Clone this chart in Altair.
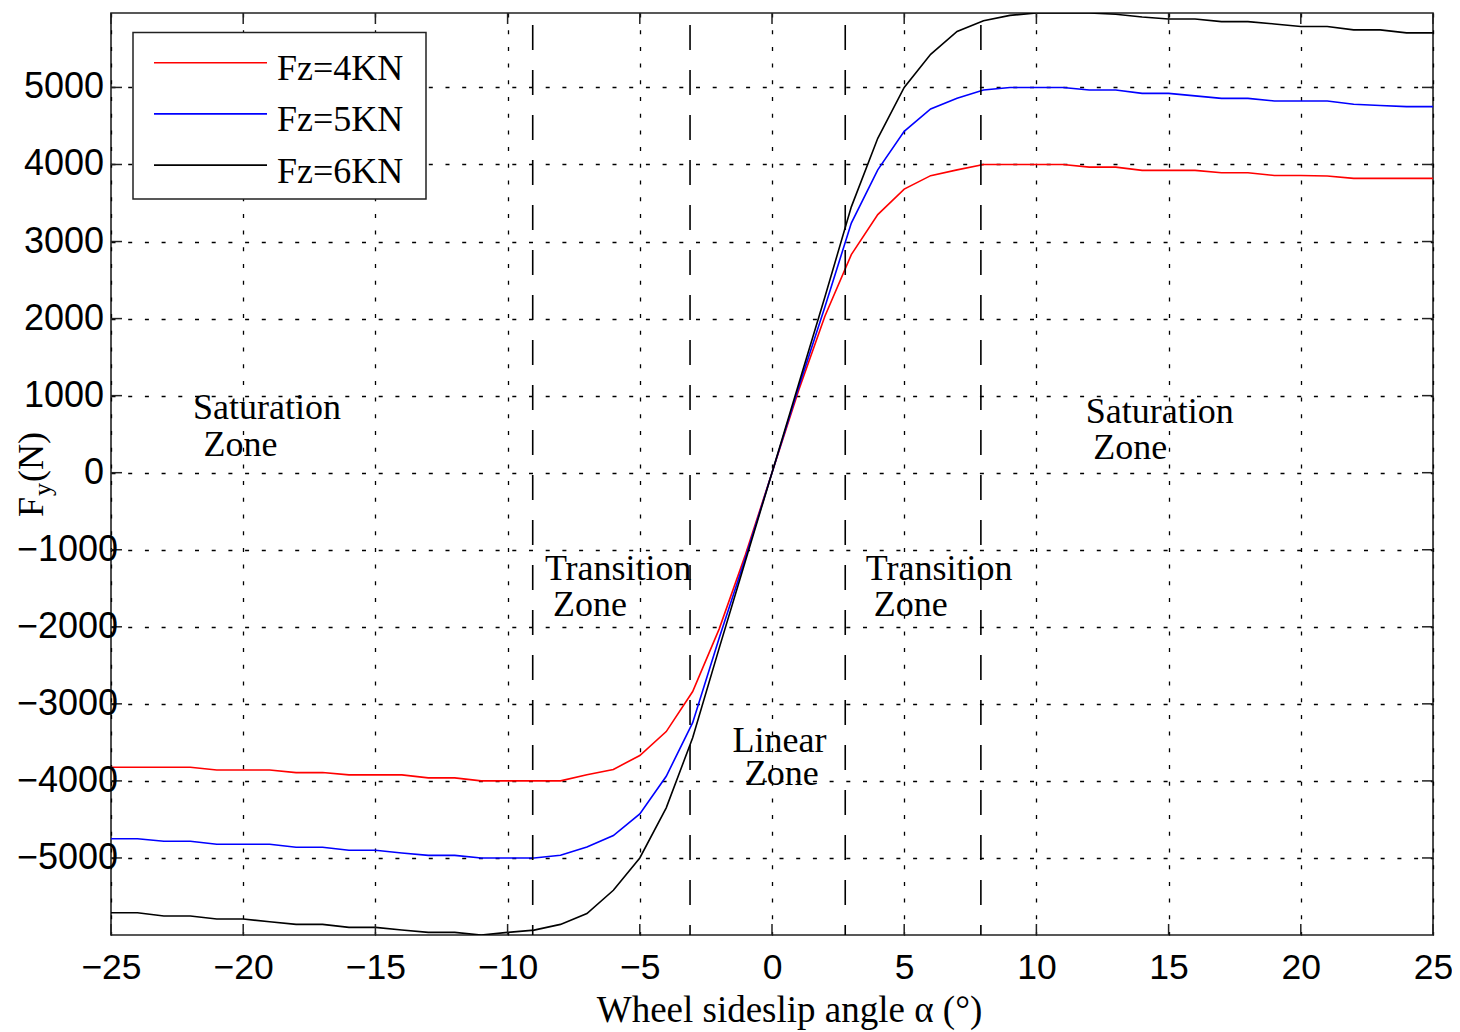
import altair as alt
import pandas as pd

# ---------------- data ----------------
angles = list(range(-25, 26))
series_names = ["Fz=4KN", "Fz=5KN", "Fz=6KN"]
series_colors = ["#ff0000", "#0000ff", "#000000"]

fy_4kn = [-3823, -3823, -3823, -3823, -3858, -3858, -3858, -3892, -3892, -3922,
          -3922, -3922, -3961, -3961, -4000, -4000, -4000, -4000, -3920, -3851,
          -3670, -3360, -2840, -2030, -1060, 0, 1060, 2030, 2830, 3350,
          3680, 3855, 3930, 4000, 4000, 4000, 4000, 3966, 3966, 3923,
          3923, 3923, 3893, 3893, 3858, 3858, 3850, 3820, 3820, 3820, 3820]
fy_5kn = [-4750, -4750, -4784, -4784, -4823, -4823, -4823, -4862, -4862, -4901,
          -4901, -4935, -4966, -4966, -5000, -5000, -5000, -4966, -4858, -4710,
          -4428, -3940, -3245, -2150, -1100, 0, 1100, 2150, 3240, 3930,
          4430, 4720, 4860, 4966, 5000, 5000, 5000, 4966, 4966, 4923,
          4923, 4890, 4858, 4858, 4824, 4824, 4824, 4781, 4765, 4751, 4751]
fy_6kn = [-5711, -5711, -5754, -5754, -5793, -5793, -5828, -5862, -5862, -5901,
          -5901, -5935, -5966, -5966, -6000, -5966, -5937, -5862, -5721, -5419,
          -5000, -4350, -3440, -2280, -1140, 0, 1140, 2280, 3450, 4340,
          5000, 5430, 5727, 5865, 5935, 5966, 5966, 5966, 5950, 5915,
          5888, 5888, 5854, 5854, 5824, 5790, 5790, 5747, 5747, 5708, 5708]

zone_bounds = [-9.05, -3.1, 2.77, 7.9]

x_ticks = [-25, -20, -15, -10, -5, 0, 5, 10, 15, 20, 25]
y_ticks = [-5000, -4000, -3000, -2000, -1000, 0, 1000, 2000, 3000, 4000, 5000]
y_tick_labels = ["\u22125000", "\u22124000", "\u22123000", "\u22122000", "\u22121000",
                 "0", "1000", "2000", "3000", "4000", "5000"]

zone_text = ["Saturation", "Zone", "Transition", "Zone", "Linear", "Zone",
             "Transition", "Zone", "Saturation", "Zone"]
zone_x = [-21.9, -21.5, -8.59, -8.28, -1.49, -1.03, 3.55, 3.85, 11.87, 12.15]
zone_y = [693, 217, -1393, -1856, -3621, -4053, -1393, -1856, 645, 178]

x_title = "Wheel sideslip angle \u03b1 (\u00b0)"

# ---------------- chart ----------------
W, H = 1322, 922
SERIF = "Liberation Serif"
SANS = "Liberation Sans"
xs = alt.Scale(domain=[-25, 25], nice=False, zero=False)
ys = alt.Scale(domain=[-6000, 5966], nice=False, zero=False)
color_scale = alt.Scale(domain=series_names, range=series_colors)

curves = pd.DataFrame({
    "angle": angles * 3,
    "fy": fy_4kn + fy_5kn + fy_6kn,
    "series": [s for s in series_names for _ in angles],
})

x_axis = alt.Axis(values=x_ticks, grid=True, gridDash=[4, 12.7], gridColor="black",
                  gridWidth=1.3, gridOpacity=1, domain=False, ticks=False,
                  labelFont=SANS, labelFontSize=35.5, labelColor="black", labelPadding=15,
                  labelFlush=False, labelOverlap=False,
                  title=x_title, titleFont=SERIF, titleFontSize=37, titleFontWeight="normal",
                  titleColor="black", titleX=678, titleY=86, titleBaseline="alphabetic",
                  titleAlign="center")
y_axis = alt.Axis(values=y_ticks, grid=True, gridDash=[4, 12.7], gridColor="black",
                  gridWidth=1.3, gridOpacity=1, domain=False, ticks=False, labels=False,
                  title=None)


def X(field):
    return alt.X(field, type="quantitative", scale=xs, axis=x_axis)


def Y(field):
    return alt.Y(field, type="quantitative", scale=ys, axis=y_axis)


lines = alt.Chart(curves).mark_line(strokeWidth=1.6, clip=True).encode(
    x=X("angle"),
    y=Y("fy"),
    color=alt.Color("series:N", scale=color_scale, legend=None),
)

zones = alt.Chart(pd.DataFrame({"angle": zone_bounds})).mark_rule(
    color="black", strokeWidth=1.6, strokeDash=[25, 20]
).encode(x=X("angle"), y=alt.value(-33), y2=alt.value(H))

ann = alt.Chart(pd.DataFrame({"t": zone_text, "angle": zone_x, "fy": zone_y})).mark_text(
    align="left", baseline="alphabetic", font=SERIF, fontSize=36, color="black"
).encode(x=X("angle"), y=Y("fy"), text="t:N")

one = pd.DataFrame({"a": [0]})
box = alt.Chart(one).mark_rect(fill="white", stroke="#222222", strokeWidth=1.5).encode(
    x=alt.value(22), x2=alt.value(315), y=alt.value(19.5), y2=alt.value(186))

legend_layers = []
for i, name in enumerate(series_names):
    ly = 49.7 + 51.2 * i
    ldf = pd.DataFrame({"series": [name]})
    legend_layers.append(alt.Chart(ldf).mark_rule(strokeWidth=1.6).encode(
        x=alt.value(43), x2=alt.value(156), y=alt.value(ly),
        color=alt.Color("series:N", scale=color_scale, legend=None)))
    legend_layers.append(alt.Chart(ldf).mark_text(
        align="left", baseline="alphabetic", font=SERIF, fontSize=36, color="black"
    ).encode(x=alt.value(166), y=alt.value(ly + 17.5), text="series:N"))

tick_style = dict(color="#222222", strokeWidth=1.5)
xt = pd.DataFrame({"angle": x_ticks})
yt = pd.DataFrame({"fy": y_ticks})
ticks = [
    alt.Chart(xt).mark_rule(**tick_style).encode(
        x=X("angle"), y=alt.value(H), y2=alt.value(H - 11)),
    alt.Chart(xt).mark_rule(**tick_style).encode(
        x=X("angle"), y=alt.value(0), y2=alt.value(11)),
    alt.Chart(yt).mark_rule(**tick_style).encode(
        y=Y("fy"), x=alt.value(0), x2=alt.value(11)),
    alt.Chart(yt).mark_rule(**tick_style).encode(
        y=Y("fy"), x=alt.value(W), x2=alt.value(W - 11)),
]

ylab_df = pd.DataFrame({"fy": y_ticks, "label": y_tick_labels})
ylab_pos = alt.Chart(ylab_df).transform_filter("datum.fy >= 0").mark_text(
    align="right", baseline="middle", font=SANS, fontSize=36, color="black"
).encode(x=alt.value(-7), y=Y("fy"), text="label:N")
ylab_neg = alt.Chart(ylab_df).transform_filter("datum.fy < 0").mark_text(
    align="right", baseline="middle", font=SANS, fontSize=36, color="black"
).encode(x=alt.value(7), y=Y("fy"), text="label:N")

yt_F = alt.Chart(one).mark_text(text="F", angle=270, align="left", baseline="alphabetic",
                                font=SERIF, fontSize=36, color="black").encode(
    x=alt.value(-68), y=alt.value(504))
yt_sub = alt.Chart(one).mark_text(text="y", angle=270, align="left", baseline="alphabetic",
                                  font=SERIF, fontSize=26, color="black").encode(
    x=alt.value(-60), y=alt.value(483))
yt_N = alt.Chart(one).mark_text(text="(N)", angle=270, align="left", baseline="alphabetic",
                                font=SERIF, fontSize=36, color="black").encode(
    x=alt.value(-68), y=alt.value(469))

chart = alt.layer(
    lines, zones, ann, box, *legend_layers, *ticks, ylab_pos, ylab_neg, yt_F, yt_sub, yt_N
).properties(
    width=W, height=H,
    autosize=alt.AutoSizeParams(type="none"),
    padding={"left": 103, "top": 5, "right": 19, "bottom": 97},
    background="white",
).configure_view(stroke="#222222", strokeWidth=1.6)

chart.save("out.html", embed_options={"renderer": "svg", "actions": False})
